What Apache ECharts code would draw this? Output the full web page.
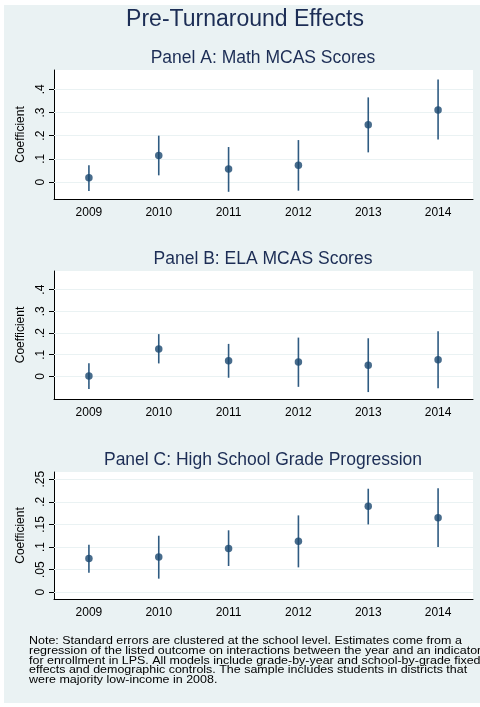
<!DOCTYPE html>
<html>
<head>
<meta charset="utf-8">
<script src="https://cdn.jsdelivr.net/npm/echarts@6/dist/echarts.min.js"></script>
<style>
  html, body { margin: 0; padding: 0; background: #fff; }
  #chart { width: 480px; height: 707px; }
</style>
</head>
<body>
<div id="chart"></div>
<script>
// data
var years = ['2009', '2010', '2011', '2012', '2013', '2014'];

var mathCoef = [0.019, 0.115, 0.056, 0.072, 0.247, 0.311];
var mathLo   = [-0.039, 0.029, -0.042, -0.037, 0.128, 0.183];
var mathHi   = [0.073, 0.200, 0.151, 0.181, 0.365, 0.442];

var elaCoef = [0.002, 0.127, 0.072, 0.066, 0.052, 0.077];
var elaLo   = [-0.058, 0.060, -0.006, -0.048, -0.072, -0.054];
var elaHi   = [0.061, 0.195, 0.150, 0.179, 0.176, 0.208];

var gradeCoef = [0.0745, 0.078, 0.097, 0.113, 0.190, 0.165];
var gradeLo   = [0.043, 0.030, 0.058, 0.055, 0.150, 0.100];
var gradeHi   = [0.105, 0.125, 0.137, 0.170, 0.229, 0.230];

var scoreTicks = [0, 0.1, 0.2, 0.3, 0.4];
var gradeTicks = [0, 0.05, 0.1, 0.15, 0.2, 0.25];

var mainTitle = 'Pre-Turnaround Effects';
var panelTitles = ['Panel A: Math MCAS Scores', 'Panel B: ELA MCAS Scores', 'Panel C: High School Grade Progression'];
var noteLines = [
  'Note: Standard errors are clustered at the school level. Estimates come from a',
  'regression of the listed outcome on interactions between the year and an indicator',
  'for enrollment in LPS. All models include grade-by-year and school-by-grade fixed',
  'effects and demographic controls. The sample includes students in districts that',
  'were majority low-income in 2008.'
];

var navy = '#1a476f';
var bg = '#eaf2f3';
var font = 'Liberation Sans, Arial, Helvetica, sans-serif';

var panels = [
  { coef: mathCoef, lo: mathLo, hi: mathHi, ticks: scoreTicks, min: -0.073, max: 0.483, top: 70, height: 129, titleY: 58 },
  { coef: elaCoef, lo: elaLo, hi: elaHi, ticks: scoreTicks, min: -0.104, max: 0.486, top: 271, height: 128, titleY: 259 },
  { coef: gradeCoef, lo: gradeLo, hi: gradeHi, ticks: gradeTicks, min: -0.015, max: 0.266, top: 472, height: 127, titleY: 460 }
];

function fmtTick(v) {
  if (v === 0) return '0';
  return String(+v.toFixed(2)).replace(/^0\./, '.');
}

var grids = [], xAxes = [], yAxes = [], series = [];
var graphics = [
  { type: 'rect', z: -10, shape: { x: 4, y: 5, width: 476, height: 698 }, style: { fill: bg } },
  { type: 'text', x: 245, y: 20, style: { text: mainTitle, font: '23px ' + font, fill: '#1c2d55', textAlign: 'center', textVerticalAlign: 'middle' } }
];

panels.forEach(function (p, i) {
  grids.push({ left: 54, width: 419, top: p.top, height: p.height, show: true, backgroundColor: '#fff', borderWidth: 0 });
  xAxes.push({
    type: 'category', gridIndex: i, data: years, boundaryGap: true,
    axisLine: { onZero: false, lineStyle: { color: '#000', width: 1 } },
    axisTick: { alignWithLabel: true, length: 5, lineStyle: { color: '#000' } },
    axisLabel: { color: '#000', fontSize: 12, fontFamily: font, margin: 8 },
    splitLine: { show: false }
  });
  yAxes.push({
    type: 'value', gridIndex: i, min: p.min, max: p.max,
    name: 'Coefficient', nameLocation: 'middle', nameRotate: 90, nameGap: 21,
    nameTextStyle: { color: '#000', fontSize: 12, fontFamily: font },
    axisLine: { show: true, onZero: false, lineStyle: { color: '#000', width: 1 } },
    axisTick: { show: true, length: 5, customValues: p.ticks, lineStyle: { color: '#000' } },
    axisLabel: { rotate: 90, color: '#000', fontSize: 12, fontFamily: font, margin: 7, customValues: p.ticks, formatter: fmtTick },
    splitLine: { show: false }
  });
  graphics.push({ type: 'text', x: 263, y: p.titleY, style: { text: panelTitles[i], font: '17.5px ' + font, fill: '#1c2d55', textAlign: 'center', textVerticalAlign: 'middle' } });

  var bars = years.map(function (y, k) { return [k, p.lo[k], p.hi[k]]; });
  series.push({
    type: 'custom', xAxisIndex: i, yAxisIndex: i, data: bars, z: 3,
    renderItem: function (params, api) {
      var a = api.coord([api.value(0), api.value(1)]);
      var b = api.coord([api.value(0), api.value(2)]);
      return { type: 'line', shape: { x1: a[0], y1: a[1], x2: b[0], y2: b[1] }, style: { stroke: '#2f5b82', lineWidth: 1.6 } };
    }
  });
  series.push({
    type: 'scatter', xAxisIndex: i, yAxisIndex: i, z: 4,
    data: years.map(function (y, k) { return [k, p.coef[k]]; }),
    symbol: 'circle', symbolSize: 7.5, itemStyle: { color: navy },
    markLine: {
      silent: true, symbol: 'none', z: 1, animation: false,
      label: { show: false },
      lineStyle: { color: bg, width: 1, type: 'solid' },
      data: p.ticks.map(function (t) { return { yAxis: t }; })
    }
  });
});

// the note in the reference is set wide, so stretch it horizontally
graphics.push({
  type: 'text', x: 29, y: 636, scaleX: 1.21,
  style: { text: noteLines.join('\n'), font: '10.3px ' + font, fill: '#000', lineHeight: 9.9, textAlign: 'left', textVerticalAlign: 'top' }
});

var chart = echarts.init(document.getElementById('chart'));
chart.setOption({
  animation: false,
  backgroundColor: '#fff',
  grid: grids,
  xAxis: xAxes,
  yAxis: yAxes,
  graphic: graphics,
  series: series
});
</script>
</body>
</html>
